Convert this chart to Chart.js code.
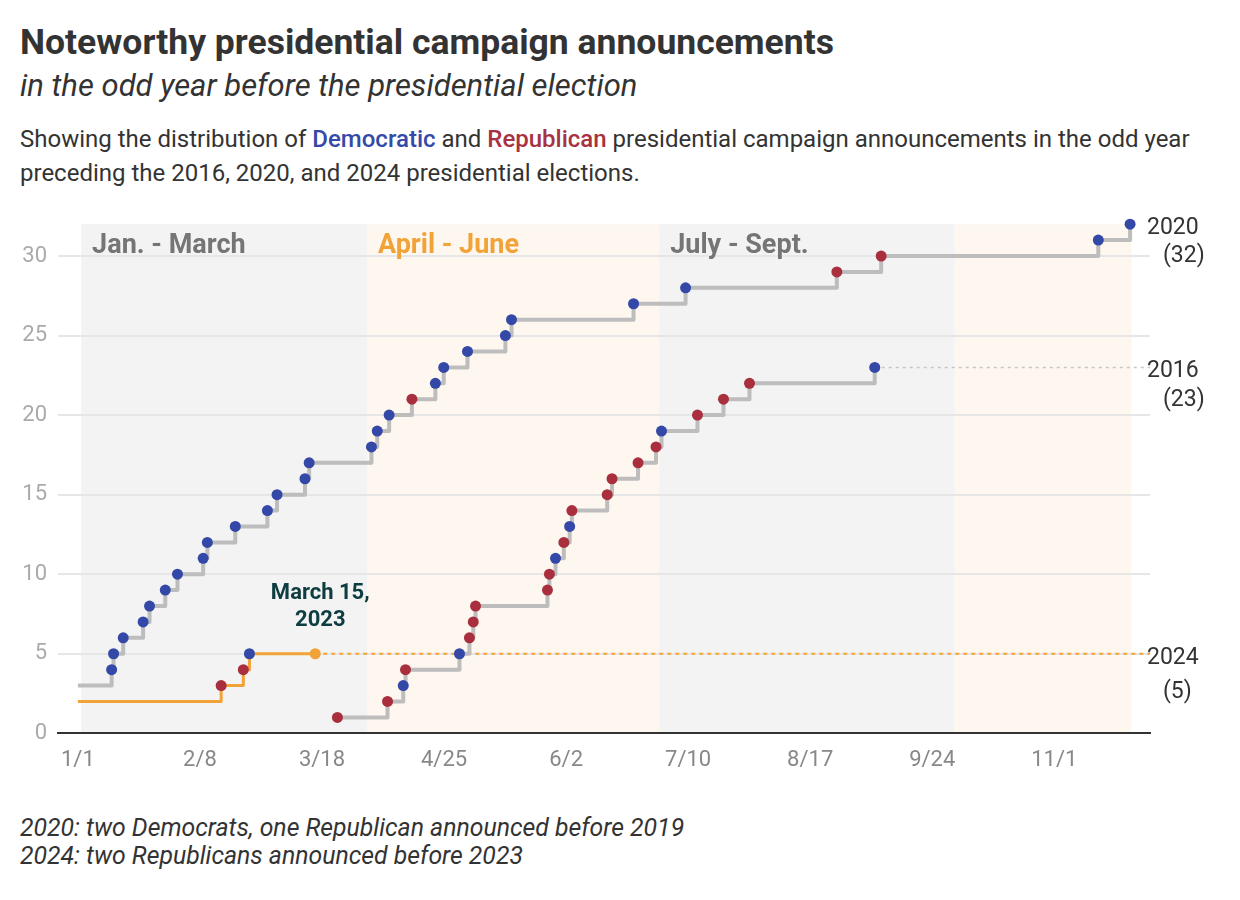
<!DOCTYPE html>
<html>
<head>
<meta charset="utf-8">
<title>Noteworthy presidential campaign announcements</title>
<script src="https://cdn.jsdelivr.net/npm/chart.js@4.4.1/dist/chart.umd.min.js"></script>
<style>
  body { margin: 0; background: #fff; font-family: Roboto, "Noto Sans", sans-serif; color: #333; }
  #page { position: relative; width: 1240px; height: 900px; overflow: hidden; }
  .title { position: absolute; left: 20px; top: 22px; font-size: 35.5px; font-weight: 700; line-height: 40px; color: #333; white-space: nowrap; }
  .subtitle { position: absolute; left: 20px; top: 68px; font-size: 31px; font-style: italic; line-height: 36px; color: #333; white-space: nowrap; }
  .desc { position: absolute; left: 20px; top: 122px; width: 1205px; font-size: 24px; line-height: 34px; color: #333; }
  .dem { color: #3549a9; font-weight: 500; }
  .rep { color: #a8323f; font-weight: 500; }
  .notes { position: absolute; left: 20px; top: 814px; font-size: 24.8px; font-style: italic; line-height: 28px; color: #333; white-space: nowrap; }
  #wrap { position: absolute; left: 0; top: 200px; width: 1240px; height: 600px; }
</style>
</head>
<body>
<div id="page">
  <div class="title">Noteworthy presidential campaign announcements</div>
  <div class="subtitle">in the odd year before the presidential election</div>
  <div class="desc">Showing the distribution of <span class="dem">Democratic</span> and <span class="rep">Republican</span> presidential campaign announcements in the odd year preceding the 2016, 2020, and 2024 presidential elections.</div>
  <div id="wrap"><canvas id="chart" width="1240" height="600"></canvas></div>
  <div class="notes">2020: two Democrats, one Republican announced before 2019<br>2024: two Republicans announced before 2023</div>
</div>
<script>
// days counted from Jan. 1 of the odd year
const tickDays = [0, 38, 76, 114, 152, 190, 228, 266, 304];
const tickLabels = ['1/1', '2/8', '3/18', '4/25', '6/2', '7/10', '8/17', '9/24', '11/1'];

const quarterStarts = [1, 90, 181, 273, 328];
const quarterNames = ['Jan. - March', 'April - June', 'July - Sept.', ''];

// 2020 cycle (announcements in 2019), starts at 3
const days2020 = [0, 10.5, 11.1, 14.1, 20.3, 22.3, 27.2, 31, 39, 40.3, 49, 59, 62, 70.7, 72, 91.4, 93.2, 96.9,
                  104, 111.3, 113.9, 121.3, 133.1, 135, 173, 189.2, 236.3, 250.1, 317.7, 327.6];
const counts2020 = [3, 4, 5, 6, 7, 8, 9, 10, 11, 12, 13, 14, 15, 16, 17, 18, 19, 20,
                    21, 22, 23, 24, 25, 26, 27, 28, 29, 30, 31, 32];
const party2020 = ['', 'D', 'D', 'D', 'D', 'D', 'D', 'D', 'D', 'D', 'D', 'D', 'D', 'D', 'D', 'D', 'D', 'D',
                   'R', 'D', 'D', 'D', 'D', 'D', 'D', 'D', 'R', 'R', 'D', 'D'];

// 2016 cycle (announcements in 2015)
const days2016 = [80.8, 96.4, 101.3, 102, 118.8, 121.9, 123.1, 123.8, 146.2, 146.8, 148.7, 151.3,
                  153.1, 153.8, 164.8, 166.3, 174.4, 180, 181.7, 192.9, 201, 209.1, 248.1];
const counts2016 = [1, 2, 3, 4, 5, 6, 7, 8, 9, 10, 11, 12, 13, 14, 15, 16, 17, 18, 19, 20, 21, 22, 23];
const party2016 = ['R', 'R', 'D', 'R', 'D', 'R', 'R', 'R', 'R', 'R', 'D', 'R',
                   'D', 'R', 'R', 'R', 'R', 'R', 'D', 'R', 'R', 'R', 'D'];

// 2024 cycle (announcements in 2023), starts at 2, last point = March 15
const days2024 = [0, 44.6, 51.5, 53.4, 73.9];
const counts2024 = [2, 3, 4, 5, 5];
const party2024 = ['', 'R', 'R', 'D', 'N'];

const endLabels = [
    { year: '2020', total: '(32)', value: 32 },
    { year: '2016', total: '(23)', value: 23 },
    { year: '2024', total: '(5)', value: 5 }
];

const X_MIN = -6.2, X_MAX = 333.8;
const DEM = '#3448a8', REP = '#a92f3e', ORANGE = '#f2a337', STEP = '#bdbdbd';

function partyColor(p) {
    if (p === 'D') return DEM;
    if (p === 'R') return REP;
    if (p === 'N') return ORANGE;
    return 'rgba(0,0,0,0)';
}

function toPoints(days, counts) {
    return days.map((d, i) => ({ x: d, y: counts[i] }));
}

function stepSeries(days, counts, party, color, width) {
    return {
        data: toPoints(days, counts),
        borderColor: color,
        borderWidth: width,
        borderJoinStyle: 'round',
        stepped: true,
        clip: false,
        pointRadius: party.map(p => p ? 5.5 : 0),
        pointHoverRadius: party.map(p => p ? 5.5 : 0),
        pointBorderWidth: 0,
        pointBackgroundColor: party.map(partyColor)
    };
}

function extension(days, counts, color, width, dash) {
    const last = days.length - 1;
    return {
        data: [{ x: days[last], y: counts[last] }, { x: X_MAX, y: counts[last] }],
        borderColor: color,
        borderWidth: width,
        borderDash: dash,
        pointRadius: 0,
        clip: false
    };
}

const overlay = {
    id: 'overlay',
    beforeDraw(chart) {
        const { ctx, chartArea: a, scales: { x } } = chart;
        ctx.save();
        for (let i = 0; i < quarterStarts.length - 1; i++) {
            const x0 = x.getPixelForValue(quarterStarts[i]);
            const x1 = x.getPixelForValue(quarterStarts[i + 1]);
            ctx.fillStyle = i % 2 === 0 ? '#f3f3f3' : '#fef7ef';
            ctx.fillRect(x0, a.top, x1 - x0, a.bottom - a.top);
        }
        ctx.restore();
    },
    beforeDatasetsDraw(chart) {
        const { ctx, chartArea: a, scales: { x } } = chart;
        ctx.save();
        ctx.font = 'bold 27px Roboto';
        ctx.textBaseline = 'alphabetic';
        ctx.textAlign = 'left';
        quarterNames.forEach((name, i) => {
            ctx.fillStyle = i % 2 === 0 ? '#757575' : '#f2a337';
            ctx.fillText(name, x.getPixelForValue(quarterStarts[i]) + 11, a.top + 29);
        });
        ctx.restore();
    },
    afterDraw(chart) {
        const { ctx, chartArea: a, scales: { x, y } } = chart;
        ctx.save();
        ctx.fillStyle = '#333';
        ctx.font = '23px Roboto';
        ctx.textBaseline = 'middle';
        ctx.textAlign = 'left';
        const second = [32, 33, 38];
        endLabels.forEach((l, i) => {
            const py = y.getPixelForValue(l.value);
            ctx.fillText(l.year, a.right - 3, py + 4);
            ctx.fillText(l.total, a.right + 13, py + second[i]);
        });

        // "today" note above the last 2024 point
        const last = days2024.length - 1;
        const px = x.getPixelForValue(days2024[last]) + 5;
        const py = y.getPixelForValue(counts2024[last]);
        ctx.fillStyle = '#0d3d40';
        ctx.font = 'bold 22px Roboto';
        ctx.textAlign = 'center';
        ctx.fillText('March 15,', px, py - 60);
        ctx.fillText('2023', px, py - 33);
        ctx.restore();
    }
};

new Chart(document.getElementById('chart'), {
    type: 'line',
    data: {
        datasets: [
            stepSeries(days2024, counts2024, party2024, ORANGE, 3),
            stepSeries(days2020, counts2020, party2020, STEP, 4),
            stepSeries(days2016, counts2016, party2016, STEP, 4),
            extension(days2016, counts2016, '#c6c6c6', 1.5, [3, 4]),
            extension(days2024, counts2024, ORANGE, 2, [4, 4])
        ]
    },
    options: {
        responsive: false,
        animation: false,
        events: [],
        layout: { padding: { top: 24, right: 90, left: 0, bottom: 0 } },
        plugins: {
            legend: { display: false },
            tooltip: { enabled: false }
        },
        scales: {
            x: {
                type: 'linear',
                min: X_MIN,
                max: X_MAX,
                afterBuildTicks: scale => { scale.ticks = tickDays.map(v => ({ value: v })); },
                afterFit: scale => { scale.height = 66.7; },
                grid: { display: false, drawTicks: false },
                border: { display: true, color: '#333', width: 2 },
                ticks: {
                    padding: 14,
                    color: '#888',
                    font: { family: 'Roboto', size: 22 },
                    maxRotation: 0,
                    autoSkip: false,
                    callback: (v, i) => tickLabels[i]
                }
            },
            y: {
                min: 0,
                max: 32,
                afterFit: scale => { scale.width = 58; },
                grid: { color: '#e6e6e6', lineWidth: 2, drawTicks: false },
                border: { display: false },
                ticks: {
                    stepSize: 5,
                    includeBounds: false,
                    padding: 11,
                    color: '#aaa',
                    font: { family: 'Roboto', size: 22 }
                }
            }
        }
    },
    plugins: [overlay]
});
</script>
</body>
</html>
